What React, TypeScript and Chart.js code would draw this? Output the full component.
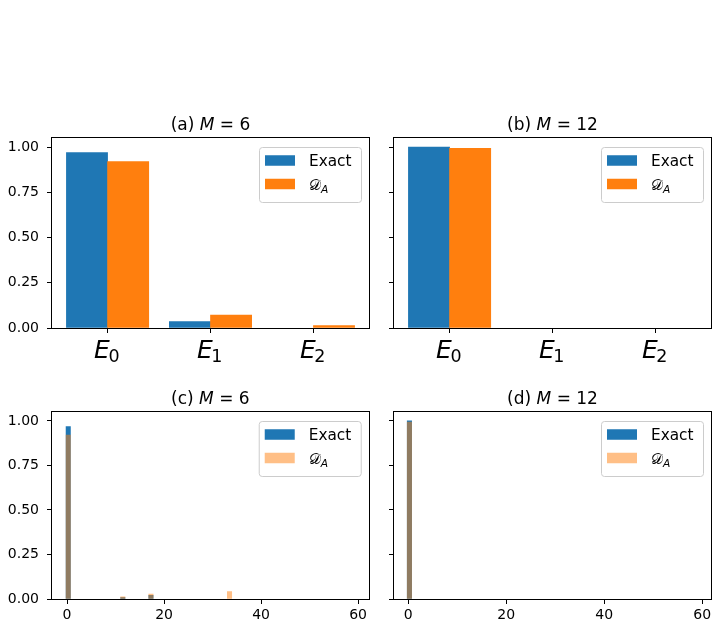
import React, { useEffect, useRef } from "react";
import { Chart, registerables } from "chart.js";

Chart.register(...registerables);

// ---------- data ----------
const levelTicks = [0, 1, 2];
const levelSubscripts = ["0", "1", "2"];
const exactLevelsM6 = [0.97, 0.035, 0.0];
const daLevelsM6 = [0.92, 0.072, 0.013];
const exactLevelsM12 = [1.0, 0.0, 0.0];
const daLevelsM12 = [0.993, 0.0, 0.0];

const energiesM6 = [0.25, 11.5, 17.3, 33.5];
const exactEnergyM6 = [0.968, 0.008, 0.02, 0.0];
const daEnergyM6 = [0.92, 0.012, 0.028, 0.042];
const energiesM12 = [0.25];
const exactEnergyM12 = [1.0];
const daEnergyM12 = [0.993];

const yTickValues = [0, 0.25, 0.5, 0.75, 1.0];
const energyTickValues = [0, 20, 40, 60];
const seriesNames = ["Exact", "D_A"];
const panelLetters = ["(a)", "(b)", "(c)", "(d)"];
const panelM = ["6", "12", "6", "12"];

// ---------- style ----------
const FONT = '"DejaVu Sans", sans-serif';
const BLUE = "#1f77b4";
const ORANGE = "#ff7f0e";
const ORANGE_HALF = "rgba(255,127,14,0.5)";

type Area = { left: number; top: number; right: number; bottom: number };
type Panel = {
  key: string;
  left: number;
  top: number;
  width: number;
  height: number;
  area: Area;
  letter: string;
  m: string;
  kind: "levels" | "energy";
  showYLabels: boolean;
  xMin: number;
  xMax: number;
  xs: number[];
  exact: number[];
  da: number[];
  daColor: string;
  barUnits: number;
};

const panels: Panel[] = [
  {
    key: "a", left: 0, top: 95, width: 370, height: 275,
    area: { left: 52, top: 43, right: 369, bottom: 233 },
    letter: panelLetters[0], m: panelM[0], kind: "levels", showYLabels: true,
    xMin: -0.54, xMax: 2.54, xs: levelTicks, exact: exactLevelsM6, da: daLevelsM6,
    daColor: ORANGE, barUnits: 0.4,
  },
  {
    key: "b", left: 360, top: 95, width: 359, height: 275,
    area: { left: 34, top: 43, right: 351, bottom: 233 },
    letter: panelLetters[1], m: panelM[1], kind: "levels", showYLabels: false,
    xMin: -0.54, xMax: 2.54, xs: levelTicks, exact: exactLevelsM12, da: daLevelsM12,
    daColor: ORANGE, barUnits: 0.4,
  },
  {
    key: "c", left: 0, top: 370, width: 370, height: 260,
    area: { left: 52, top: 42, right: 369, bottom: 229 },
    letter: panelLetters[2], m: panelM[2], kind: "energy", showYLabels: true,
    xMin: -3.1, xMax: 62.2, xs: energiesM6, exact: exactEnergyM6, da: daEnergyM6,
    daColor: ORANGE_HALF, barUnits: 0.9,
  },
  {
    key: "d", left: 360, top: 370, width: 359, height: 260,
    area: { left: 34, top: 42, right: 351, bottom: 229 },
    letter: panelLetters[3], m: panelM[3], kind: "energy", showYLabels: false,
    xMin: -2.9, xMax: 61.8, xs: energiesM12, exact: exactEnergyM12, da: daEnergyM12,
    daColor: ORANGE_HALF, barUnits: 0.9,
  },
];

function drawTitle(ctx: CanvasRenderingContext2D, cx: number, baseline: number, letter: string, m: string) {
  const size = 17;
  const normal = `${size}px ${FONT}`;
  const ital = `italic ${size}px ${FONT}`;
  const parts = [
    { t: letter + " ", f: normal },
    { t: "M", f: ital },
    { t: " = ", f: normal },
    { t: m, f: normal },
  ];
  let total = 0;
  const widths = parts.map((p) => {
    ctx.font = p.f;
    const w = ctx.measureText(p.t).width;
    total += w;
    return w;
  });
  let x = cx - total / 2;
  ctx.fillStyle = "#000";
  ctx.textBaseline = "alphabetic";
  ctx.textAlign = "left";
  parts.forEach((p, i) => {
    ctx.font = p.f;
    ctx.fillText(p.t, x, baseline);
    x += widths[i];
  });
}

function drawLegend(ctx: CanvasRenderingContext2D, a: Area, daColor: string) {
  const w = 102;
  const h = 55;
  const x = a.right - 8 - w;
  const y = a.top + 9;
  ctx.beginPath();
  ctx.roundRect(x + 0.5, y + 0.5, w, h, 3);
  ctx.fillStyle = "rgba(255,255,255,0.8)";
  ctx.fill();
  ctx.strokeStyle = "#cccccc";
  ctx.lineWidth = 1;
  ctx.stroke();

  const fs = 15.3;
  const patchX = x + 6;
  const patchW = 30;
  const patchH = 10.5;
  const rows = [y + 13.5, y + 37];
  ctx.fillStyle = BLUE;
  ctx.fillRect(patchX, rows[0] - patchH / 2, patchW, patchH);
  ctx.fillStyle = daColor;
  ctx.fillRect(patchX, rows[1] - patchH / 2, patchW, patchH);

  const tx = x + 50;
  ctx.fillStyle = "#000";
  ctx.textAlign = "left";
  ctx.textBaseline = "alphabetic";
  ctx.font = `${fs}px ${FONT}`;
  ctx.fillText(seriesNames[0], tx, rows[0] + 5.5);
  // calligraphic D with subscript A
  ctx.font = `${fs}px "DejaVu Sans", "DejaVu Serif", "Noto Sans", serif`;
  const dGlyph = "\u{1D49F}";
  ctx.fillText(dGlyph, tx, rows[1] + 5.5);
  const dw = ctx.measureText(dGlyph).width;
  ctx.font = `italic ${fs * 0.7}px ${FONT}`;
  ctx.fillText("A", tx + dw, rows[1] + 8.5);
}

function drawLevelLabels(ctx: CanvasRenderingContext2D, chart: any, a: Area) {
  const xs = chart.scales.x;
  const big = 25;
  const small = 17.5;
  levelTicks.forEach((v, i) => {
    const px = xs.getPixelForValue(v);
    ctx.font = `italic ${big}px ${FONT}`;
    const we = ctx.measureText("E").width;
    ctx.font = `${small}px ${FONT}`;
    const ws = ctx.measureText(levelSubscripts[i]).width;
    const start = px - (we + ws) / 2;
    ctx.fillStyle = "#000";
    ctx.textAlign = "left";
    ctx.textBaseline = "alphabetic";
    ctx.font = `italic ${big}px ${FONT}`;
    ctx.fillText("E", start, a.bottom + 30);
    ctx.font = `${small}px ${FONT}`;
    ctx.fillText(levelSubscripts[i], start + we - 1.5, a.bottom + 33.7);
  });
}

function makePlugin(p: Panel) {
  return {
    id: "mpl_" + p.key,
    afterDraw(chart: any) {
      const ctx: CanvasRenderingContext2D = chart.ctx;
      const a: Area = chart.chartArea;
      ctx.save();
      // spines
      ctx.strokeStyle = "#000";
      ctx.lineWidth = 1;
      ctx.strokeRect(Math.round(a.left) - 0.5, Math.round(a.top) - 0.5,
        Math.round(a.right - a.left) + 1, Math.round(a.bottom - a.top) + 1);
      drawTitle(ctx, (a.left + a.right) / 2, a.top - 8.5, p.letter, p.m);
      drawLegend(ctx, a, p.daColor);
      if (p.kind === "levels") drawLevelLabels(ctx, chart, a);
      ctx.restore();
    },
  };
}

function buildConfig(p: Panel): any {
  const pxPerUnit = (p.area.right - p.area.left) / (p.xMax - p.xMin);
  const thickness = p.barUnits * pxPerUnit;
  const half = p.kind === "levels" ? p.barUnits / 2 : 0;
  // zero probabilities draw no bar at all
  const val = (v: number) => (v === 0 ? null : v);
  const datasets = [
    {
      label: seriesNames[0],
      data: p.xs.map((x, i) => ({ x: x - half, y: val(p.exact[i]) })),
      backgroundColor: BLUE,
      borderWidth: 0,
      barThickness: thickness,
      grouped: false,
      order: 1,
    },
    {
      label: seriesNames[1],
      data: p.xs.map((x, i) => ({ x: x + half, y: val(p.da[i]) })),
      backgroundColor: p.daColor,
      borderWidth: 0,
      barThickness: thickness,
      grouped: false,
      order: 0,
    },
  ];
  const xTicks = p.kind === "levels" ? levelTicks : energyTickValues;
  return {
    type: "bar",
    data: { datasets },
    options: {
      responsive: false,
      animation: false,
      devicePixelRatio: 1,
      events: [],
      layout: { padding: { left: 0, top: p.area.top, right: p.width - p.area.right, bottom: 0 } },
      plugins: { legend: { display: false }, tooltip: { enabled: false }, title: { display: false } },
      scales: {
        x: {
          type: "linear",
          min: p.xMin,
          max: p.xMax,
          offset: false,
          grid: { display: true, offset: false, drawOnChartArea: false, drawTicks: true, tickLength: 5, color: "#000", lineWidth: 1 },
          border: { display: false },
          ticks: {
            autoSkip: false,
            maxRotation: 0,
            padding: 3,
            color: "#000",
            font: { family: "DejaVu Sans", size: 14 },
            callback: (v: number) => (p.kind === "levels" ? "" : String(v)),
          },
          afterBuildTicks: (s: any) => { s.ticks = xTicks.map((v) => ({ value: v })); },
          afterFit: (s: any) => { s.height = p.height - p.area.bottom; },
        },
        y: {
          type: "linear",
          min: 0,
          max: 1.05,
          grid: { display: true, drawOnChartArea: false, drawTicks: true, tickLength: 5, color: "#000", lineWidth: 1 },
          border: { display: false },
          ticks: {
            padding: 8,
            color: "#000",
            font: { family: "DejaVu Sans", size: 14 },
            callback: (v: number) => (p.showYLabels ? v.toFixed(2) : ""),
          },
          afterBuildTicks: (s: any) => { s.ticks = yTickValues.map((v) => ({ value: v })); },
          afterFit: (s: any) => { s.width = p.area.left; },
        },
      },
    },
    plugins: [makePlugin(p)],
  };
}

function PanelChart({ panel }: { panel: Panel }) {
  const ref = useRef<HTMLCanvasElement>(null);
  useEffect(() => {
    const chart = new Chart(ref.current as HTMLCanvasElement, buildConfig(panel));
    return () => chart.destroy();
  }, [panel]);
  return (
    <canvas
      ref={ref}
      width={panel.width}
      height={panel.height}
      style={{ position: "absolute", left: panel.left, top: panel.top, width: panel.width, height: panel.height }}
    />
  );
}

export default function App() {
  return (
    <div style={{ position: "absolute", left: 0, top: 0, width: 719, height: 630, background: "#fff", overflow: "hidden" }}>
      {panels.map((p) => (
        <PanelChart key={p.key} panel={p} />
      ))}
    </div>
  );
}
